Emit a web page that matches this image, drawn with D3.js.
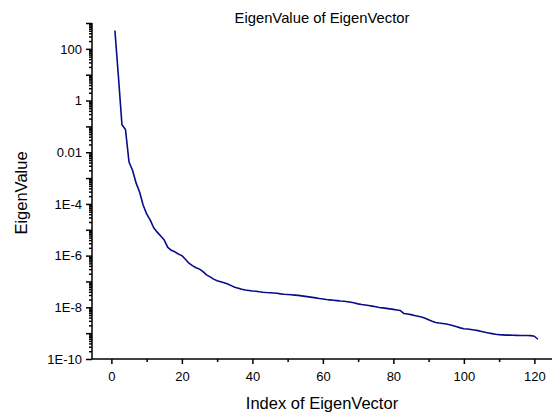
<!DOCTYPE html>
<html>
<head>
<meta charset="utf-8">
<script src="https://cdn.jsdelivr.net/npm/d3@7"></script>
<style>
  body { margin: 0; background: #fff; }
  text { font-family: "Liberation Sans", Arial, sans-serif; }
</style>
</head>
<body>
<svg id="chart"></svg>
<script>
// eigenvalue, index 1..121
const indices = d3.range(1, 122);
const eigenValues = [
    5.1e2, 8.3, 0.115, 0.076, 4.2e-3, 2.0e-3, 6.5e-4, 2.9e-4, 9.1e-5, 4.1e-5,
    2.4e-5, 1.2e-5, 8.1e-6, 5.7e-6, 4.0e-6, 2.1e-6, 1.6e-6, 1.4e-6, 1.15e-6, 1.0e-6,
    7.2e-7, 5.1e-7, 4.1e-7, 3.4e-7, 3.0e-7, 2.4e-7, 1.8e-7, 1.5e-7, 1.23e-7, 1.07e-7,
    9.8e-8, 8.9e-8, 8.0e-8, 6.9e-8, 6.0e-8, 5.5e-8, 5.0e-8, 4.7e-8, 4.5e-8, 4.3e-8,
    4.2e-8, 4.0e-8, 3.85e-8, 3.75e-8, 3.68e-8, 3.6e-8, 3.5e-8, 3.3e-8, 3.2e-8, 3.13e-8,
    3.05e-8, 2.97e-8, 2.89e-8, 2.77e-8, 2.64e-8, 2.53e-8, 2.42e-8, 2.31e-8, 2.19e-8, 2.1e-8,
    2.0e-8, 1.94e-8, 1.88e-8, 1.82e-8, 1.75e-8, 1.71e-8, 1.65e-8, 1.58e-8, 1.47e-8, 1.36e-8,
    1.28e-8, 1.23e-8, 1.17e-8, 1.11e-8, 1.05e-8, 9.9e-9, 9.5e-9, 9.1e-9, 8.7e-9, 8.3e-9,
    7.9e-9, 7.5e-9, 5.75e-9, 5.5e-9, 5.2e-9, 4.85e-9, 4.5e-9, 4.2e-9, 3.8e-9, 3.3e-9,
    2.9e-9, 2.6e-9, 2.46e-9, 2.36e-9, 2.25e-9, 2.13e-9, 1.95e-9, 1.77e-9, 1.6e-9, 1.49e-9,
    1.44e-9, 1.38e-9, 1.32e-9, 1.25e-9, 1.16e-9, 1.08e-9, 1.02e-9, 9.6e-10, 9.1e-10, 8.8e-10,
    8.6e-10, 8.4e-10, 8.4e-10, 8.3e-10, 8.2e-10, 8.15e-10, 8.15e-10, 8.1e-10, 8.0e-10, 7.6e-10,
    5.8e-10
];

const xMajorTicks = [0, 20, 40, 60, 80, 100, 120];
const xMinorTicks = [10, 30, 50, 70, 90, 110];
const yLabelTicks = [1e-10, 1e-8, 1e-6, 1e-4, 1e-2, 1, 100];
const yLabelText = ["1E-10", "1E-8", "1E-6", "1E-4", "0.01", "1", "100"];

const width = 555, height = 415;
const plotLeft = 92, plotRight = 552, plotTop = 23, plotBottom = 359;

const svg = d3.select("#chart")
    .attr("width", width)
    .attr("height", height);

const x = d3.scaleLinear().domain([-5.5, 125]).range([plotLeft, plotRight]);
const y = d3.scaleLog().domain([1e-10, 1e3]).range([plotBottom, plotTop]);

// decade ticks and minor 2..9 ticks
const decades = d3.range(-10, 4).map(e => Math.pow(10, e));
const yMinor = [];
for (let e = -10; e < 3; e++) {
    for (let m = 2; m <= 9; m++) yMinor.push(m * Math.pow(10, e));
}

// y axis
svg.append("g")
    .attr("transform", `translate(${plotLeft},0)`)
    .call(d3.axisLeft(y).tickValues(yMinor).tickSize(3).tickFormat(""))
    .call(g => g.select(".domain").remove());

const yAxis = svg.append("g")
    .attr("transform", `translate(${plotLeft},0)`)
    .call(d3.axisLeft(y).tickValues(decades).tickSize(6).tickPadding(4)
        .tickFormat(d => {
            const i = yLabelTicks.findIndex(v => Math.abs(Math.log10(v) - Math.log10(d)) < 1e-6);
            return i >= 0 ? yLabelText[i] : "";
        }));
yAxis.select(".domain").attr("d", `M0,${plotBottom}V${plotTop}`);

// x axis
svg.append("g")
    .attr("transform", `translate(0,${plotBottom})`)
    .call(d3.axisBottom(x).tickValues(xMinorTicks).tickSize(3).tickFormat(""))
    .call(g => g.select(".domain").remove());

const xAxis = svg.append("g")
    .attr("transform", `translate(0,${plotBottom})`)
    .call(d3.axisBottom(x).tickValues(xMajorTicks).tickSize(5).tickPadding(8));
xAxis.select(".domain").attr("d", `M${plotLeft},0H${plotRight}`);

svg.selectAll(".tick text")
    .style("font-size", "13px")
    .style("font-family", "Liberation Sans, Arial, sans-serif")
    .attr("fill", "#000");
svg.selectAll(".domain, .tick line")
    .attr("stroke", "#000")
    .attr("stroke-width", 1.5);

// line
const line = d3.line()
    .x((d, i) => x(indices[i]))
    .y(d => y(d));

svg.append("path")
    .datum(eigenValues)
    .attr("fill", "none")
    .attr("stroke", "#0a0a8a")
    .attr("stroke-width", 1.6)
    .attr("stroke-linejoin", "round")
    .attr("d", line);

// titles
svg.append("text")
    .attr("x", (plotLeft + plotRight) / 2)
    .attr("y", 23)
    .attr("text-anchor", "middle")
    .style("font-size", "14.8px")
    .text("EigenValue of EigenVector");

svg.append("text")
    .attr("x", (plotLeft + plotRight) / 2)
    .attr("y", 409)
    .attr("text-anchor", "middle")
    .style("font-size", "16.5px")
    .text("Index of EigenVector");

svg.append("text")
    .attr("transform", `translate(27,${(plotTop + plotBottom) / 2 + 2}) rotate(-90)`)
    .attr("text-anchor", "middle")
    .style("font-size", "16.5px")
    .text("EigenValue");
</script>
</body>
</html>
